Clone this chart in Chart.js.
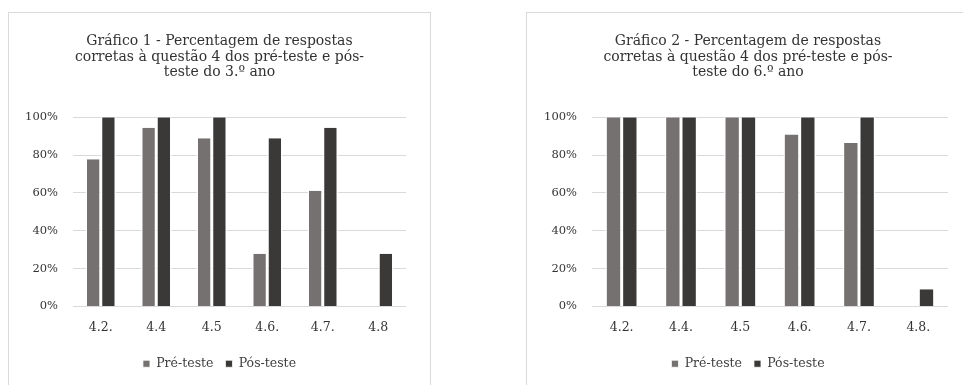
<!DOCTYPE html>
<html><head><meta charset="utf-8">
<script src="https://cdn.jsdelivr.net/npm/chart.js@4"></script>
<style>
html,body{margin:0;padding:0;background:#fff;overflow:hidden;width:963px;height:385px;}
.box{position:absolute;border:1px solid #d9d9d9;background:#fff;}
#b1{left:8px;top:12px;width:421px;height:400px;}
#b2{left:526px;top:12px;width:460px;height:400px;}
canvas{position:absolute;left:0;top:0;}
</style></head>
<body>
<div class="box" id="b1"><canvas id="c1" width="421" height="373"></canvas></div>
<div class="box" id="b2"><canvas id="c2" width="442" height="373"></canvas></div>
<script>
const categories1 = ['4.2.', '4.4', '4.5', '4.6.', '4.7.', '4.8'];
const categories2 = ['4.2.', '4.4.', '4.5', '4.6.', '4.7.', '4.8.'];
const seriesNames = ['Pré-teste', 'Pós-teste'];
const pre1 = [77.8, 94.4, 88.9, 27.8, 61.1, 0];
const post1 = [100, 100, 100, 88.9, 94.4, 27.8];
const pre2 = [100, 100, 100, 90.9, 86.4, 0];
const post2 = [100, 100, 100, 100, 100, 9.1];
const titles = [
  ['Gráfico 1 - Percentagem de respostas', 'corretas à questão 4 dos pré-teste e pós-', 'teste do 3.º ano'],
  ['Gráfico 2 - Percentagem de respostas', 'corretas à questão 4 dos pré-teste e pós-', 'teste do 6.º ano']
];
const yMin = 0, yMax = 100, yStep = 20;

const colors = ['#767171', '#3b3838'];
const serif = "'DejaVu Serif', serif";

function make(id, cats, pre, post, title, leftW, rightW) {
  new Chart(document.getElementById(id), {
    type: 'bar',
    data: {
      labels: cats,
      datasets: [pre, post].map((d, i) => ({
        label: seriesNames[i],
        data: d,
        backgroundColor: colors[i],
        borderColor: '#ffffff',
        borderWidth: {left: 1.5, right: 1.5, top: 0, bottom: 0},
        borderSkipped: false,
        barPercentage: 1,
        categoryPercentage: 0.55
      }))
    },
    options: {
      responsive: false,
      animation: false,
      layout: {padding: {left: 0, right: 0, top: 0, bottom: 6}},
      plugins: {
        tooltip: {enabled: false},
        title: {
          display: true,
          text: title,
          color: '#333333',
          font: {family: serif, size: 14, weight: 'normal', lineHeight: 1.1},
          padding: {top: 21, bottom: 37}
        },
        legend: {
          position: 'bottom',
          labels: {
            boxWidth: 7, boxHeight: 7, color: '#404040',
            font: {family: serif, size: 12.5},
            padding: 12
          }
        }
      },
      scales: {
        x: {
          grid: {display: false},
          border: {display: false},
          ticks: {color: '#333333', font: {family: serif, size: 12.5}, padding: 6},
          afterFit: s => { s.height += 4; }
        },
        y: {
          min: yMin, max: yMax,
          grid: {color: '#d9d9d9', drawTicks: false},
          border: {display: false},
          ticks: {stepSize: yStep, color: '#333333', font: {family: serif, size: 11.5}, padding: 15,
                  callback: v => v + '%'},
          afterFit: s => { s.width = leftW; }
        },
        yRight: {
          position: 'right',
          min: yMin, max: yMax,
          grid: {display: false},
          border: {display: false},
          ticks: {display: false},
          afterFit: s => { s.width = rightW; }
        }
      }
    }
  });
}
make('c1', categories1, pre1, post1, titles[0], 64, 24);
make('c2', categories2, pre2, post2, titles[1], 65, 21);
</script>
</body></html>
